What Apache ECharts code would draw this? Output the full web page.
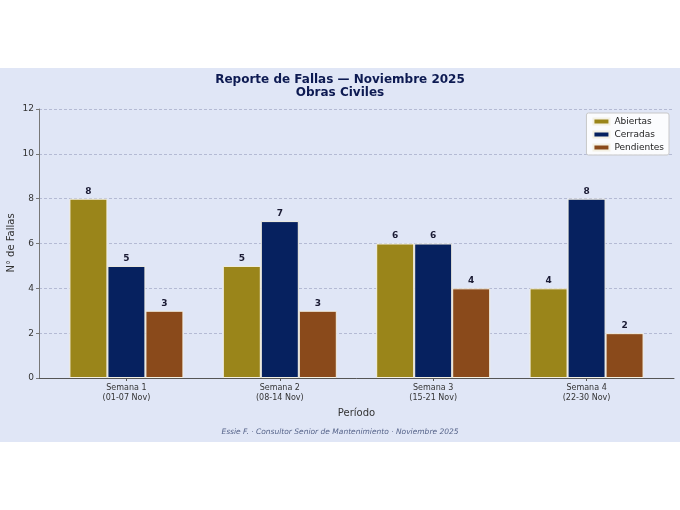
<!DOCTYPE html>
<html lang="es">
<head>
    <meta charset="UTF-8">
    <title>Reporte de Fallas</title>
    <script src="https://cdn.jsdelivr.net/npm/echarts@6/dist/echarts.min.js"></script>
    <style type="text/css">
        body {
            margin: 0;
            padding: 0;
            background: #ffffff;
            width: 680px;
            height: 510px;
            overflow: hidden;
        }
        #band {
            position: absolute;
            left: 0;
            top: 68px;
            width: 680px;
            height: 374px;
            background: #e0e6f6;
        }
        #chart {
            width: 680px;
            height: 374px;
        }
    </style>
</head>
<body>
<div id="band"><div id="chart"></div></div>
<script>
    var semanas = ['Semana 1\n(01-07 Nov)', 'Semana 2\n(08-14 Nov)', 'Semana 3\n(15-21 Nov)', 'Semana 4\n(22-30 Nov)'];
    var posiciones = [0, 1, 2, 3];
    var abiertas = [8, 5, 6, 4];
    var cerradas = [5, 7, 6, 8];
    var pendientes = [3, 3, 4, 2];

    var fuente = 'DejaVu Sans';

    // el eje x es numérico para dejar el margen lateral como en el original
    function serie(nombre, datos, color) {
        return {
            name: nombre,
            type: 'bar',
            data: datos.map(function (v, i) { return [posiciones[i], v]; }),
            barWidth: 38,
            barGap: '0%',
            itemStyle: { color: color, borderColor: '#f4f1e4', borderWidth: 1 },
            label: {
                show: true,
                position: 'top',
                distance: 3,
                fontFamily: fuente,
                fontWeight: 'bold',
                fontSize: 9,
                color: '#1a1a33',
                formatter: function (p) { return p.value[1]; }
            }
        };
    }

    var chart = echarts.init(document.getElementById('chart'));
    chart.setOption({
        animation: false,
        backgroundColor: 'transparent',
        textStyle: { fontFamily: fuente },
        title: {
            text: 'Reporte de Fallas — Noviembre 2025\nObras Civiles',
            left: 'center',
            top: 0,
            textStyle: {
                fontFamily: fuente,
                fontSize: 12,
                fontWeight: 'bold',
                color: '#0d1a52',
                lineHeight: 13,
                align: 'center'
            }
        },
        legend: {
            right: 11,
            top: 45,
            orient: 'vertical',
            icon: 'rect',
            itemWidth: 16,
            itemHeight: 6,
            itemGap: 4,
            padding: [4, 5, 3, 6],
            backgroundColor: 'rgba(255,255,255,0.85)',
            borderColor: '#c8c8c8',
            borderWidth: 1,
            borderRadius: 2,
            textStyle: { fontFamily: fuente, fontSize: 9, color: '#222' },
            data: ['Abiertas', 'Cerradas', 'Pendientes']
        },
        grid: { left: 39, right: 6, top: 41, bottom: 64, outerBoundsMode: 'none' },
        xAxis: {
            type: 'value',
            min: -0.57,
            max: 3.57,
            name: 'Período',
            nameLocation: 'middle',
            nameGap: 30,
            nameTextStyle: { fontFamily: fuente, fontSize: 10, color: '#333' },
            splitLine: { show: false },
            axisLine: { onZero: false, lineStyle: { color: '#555', width: 1 } },
            axisTick: { customValues: posiciones, length: 3, lineStyle: { color: '#555' } },
            axisLabel: {
                customValues: posiciones,
                fontFamily: fuente,
                fontSize: 8,
                color: '#333',
                lineHeight: 10,
                margin: 5,
                formatter: function (v) { return semanas[Math.round(v)]; }
            }
        },
        yAxis: {
            type: 'value',
            min: 0,
            max: 12,
            interval: 2,
            axisLine: { show: true, onZero: false, lineStyle: { color: '#777' } },
            axisTick: { show: true, length: 3, lineStyle: { color: '#777' } },
            axisLabel: { fontFamily: fuente, fontSize: 9, color: '#333', margin: 5 },
            splitLine: { lineStyle: { color: '#a8afcc', type: [3, 2], width: 0.8 } }
        },
        graphic: [{
            // título del eje y, puesto a mano porque el nombre del eje se corría
            type: 'text',
            x: 11,
            y: 175,
            rotation: Math.PI / 2,
            style: {
                text: 'N° de Fallas',
                fontFamily: fuente,
                fontSize: 10,
                fill: '#333',
                align: 'center',
                verticalAlign: 'middle'
            }
        }, {
            type: 'text',
            left: 'center',
            top: 360,
            style: {
                text: 'Essie F. · Consultor Senior de Mantenimiento · Noviembre 2025',
                fontFamily: fuente,
                fontSize: 7.5,
                fontStyle: 'italic',
                fill: '#56648a'
            }
        }],
        series: [
            serie('Abiertas', abiertas, '#9a851a'),
            serie('Cerradas', cerradas, '#06215f'),
            serie('Pendientes', pendientes, '#8a4a1b')
        ]
    });
</script>
</body>
</html>
